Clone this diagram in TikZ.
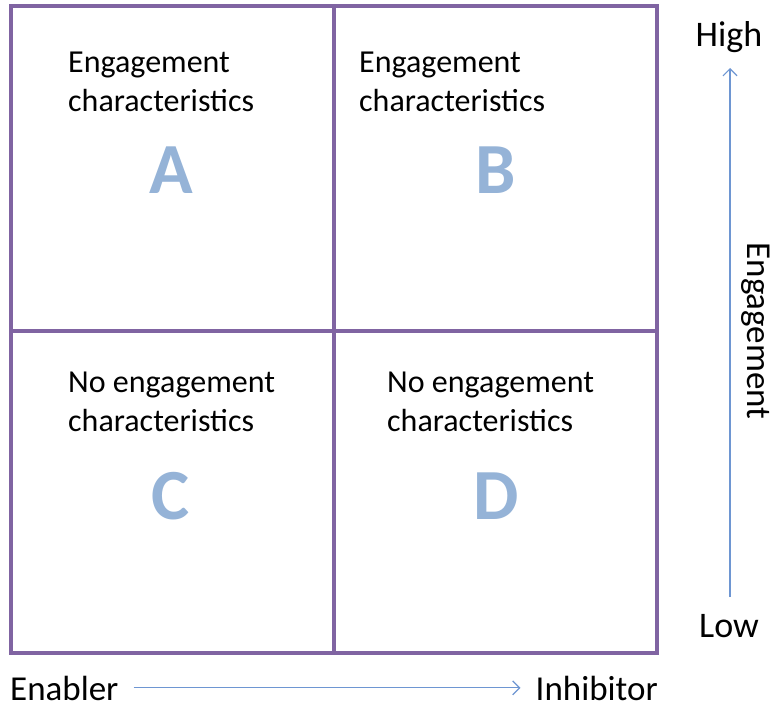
\documentclass[tikz,border=0pt]{standalone}
\usepackage{fontspec}
\setmainfont{Carlito}
\usepackage{tikz}
\usetikzlibrary{arrows.meta}
\definecolor{gridpurple}{RGB}{128,100,162}
\definecolor{letterblue}{RGB}{149,179,215}
\definecolor{axisblue}{RGB}{110,150,210}
\newcommand{\quadtext}[3] {\node at (#1) (#2) [anchor=base west, align=left, inner sep=0pt, font=\fontsize{32}{39}\selectfont] {#3};}
\newcommand{\quadletter}[2] {\node at (#1) (#2) [inner sep=0pt, text=letterblue, font=\fontsize{72}{80}\selectfont\bfseries] {#2};}
\newcommand{\axislabel}[3] {\node at (#1) (#2) [anchor=base, inner sep=0pt, font=\fontsize{36}{40}\selectfont] {#3};}
\newcommand{\axisarrow}[2] {\draw [axisblue, line width=1.2pt, -{Straight Barb[length=7pt,width=14pt]}] (#1) -- (#2);}

\begin{document}
\begin{tikzpicture}[x=1pt, y=1pt]
\useasboundingbox (0,0) rectangle (774,-711);

% the four quadrants
\draw [gridpurple, line width=4pt] (10.5,-6.5) rectangle (657,-652.5);
\draw [gridpurple, line width=4pt] (334,-6.5) -- (334,-652.5);
\draw [gridpurple, line width=4pt] (10.5,-331) -- (657,-331);

% base anchor sits on the last line
\quadtext {68,-112} {ta} {Engagement\\characteristics};
\quadtext {359,-112} {tb} {Engagement\\characteristics};
\quadtext {68,-431} {tc} {No engagement\\characteristics};
\quadtext {387,-431} {td} {No engagement\\characteristics};

\quadletter {171,-170} {A};
\quadletter {496,-170} {B};
\quadletter {171,-496} {C};
\quadletter {496,-496} {D};

% axes
\axislabel {729,-47} {high} {High};
\axislabel {729,-637} {low} {Low};
\node at (756,-331) (eng) [rotate=-90, inner sep=0pt, font=\fontsize{35}{40}\selectfont] {Engagement};
\coordinate (lowend) at (730,-597);
\coordinate (highend) at (730,-68);
\axisarrow{lowend}{highend};

\node at (10,-700) (enabler) [anchor=base west, inner sep=0pt, text depth=0pt, font=\fontsize{35}{40}\selectfont] {Enabler};
\node at (658,-700) (inhibitor) [anchor=base east, inner sep=0pt, text depth=0pt, font=\fontsize{35}{40}\selectfont] {Inhibitor};
\draw [axisblue, line width=1.2pt, -{Straight Barb[length=7pt,width=14pt]}, shorten <=15pt, shorten >=15pt] (enabler.east) -- (inhibitor.west);

\end{tikzpicture}
\end{document}
